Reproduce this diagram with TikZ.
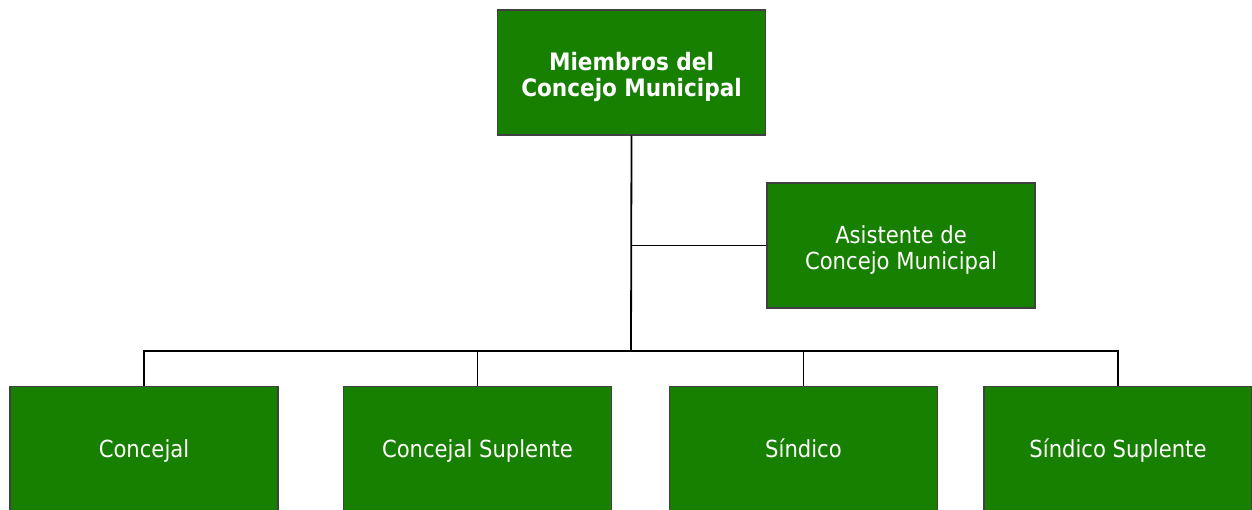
\documentclass[tikz,border=0pt]{standalone}
\usepackage{fontspec}
\setmainfont{DejaVu Sans Condensed}
\definecolor{boxgreen}{HTML}{178000}
\definecolor{boxborder}{HTML}{404040}
\newcommand{\lowr}{\rule[-7.65pt]{0pt}{31.5pt}}
\newcommand{\lowm}{\rule{0pt}{27pt}}
\begin{document}
\begin{tikzpicture}[x=1pt,y=-1pt,
  box/.style={draw=boxborder, line width=1.5pt, fill=boxgreen, text=white, align=center,
    minimum width=268pt, minimum height=125pt, inner sep=0pt, font=\fontsize{23.5}{25.5}\selectfont},
  link/.style={draw=black, line width=1.8pt}]
\useasboundingbox (0,0) rectangle (1252,510);
\node[box, font=\fontsize{24}{26}\selectfont\bfseries] (top) at (631.5,72.5) {\lowm Miembros del\\Concejo Municipal};
\node[box] (asist) at (901,245.5) {\lowm Asistente de\\Concejo Municipal};
\node[box] (c1) at (144,449) {\lowr Concejal};
\node[box] (c2) at (477.5,449) {\lowr Concejal Suplente};
\node[box] (c3) at (803.5,449) {\lowr Síndico};
\node[box] (c4) at (1118,449) {\lowr Síndico Suplente};
\coordinate (bus) at (631,351);
\draw[link] (top.south) -- (bus);
\draw[link] (top.south |- asist.west) -- (asist.west);
\draw[link] (bus) -| (c1.north);
\draw[link] (bus) -| (c2.north);
\draw[link] (bus) -| (c3.north);
\draw[link] (bus) -| (c4.north);
\end{tikzpicture}
\end{document}
